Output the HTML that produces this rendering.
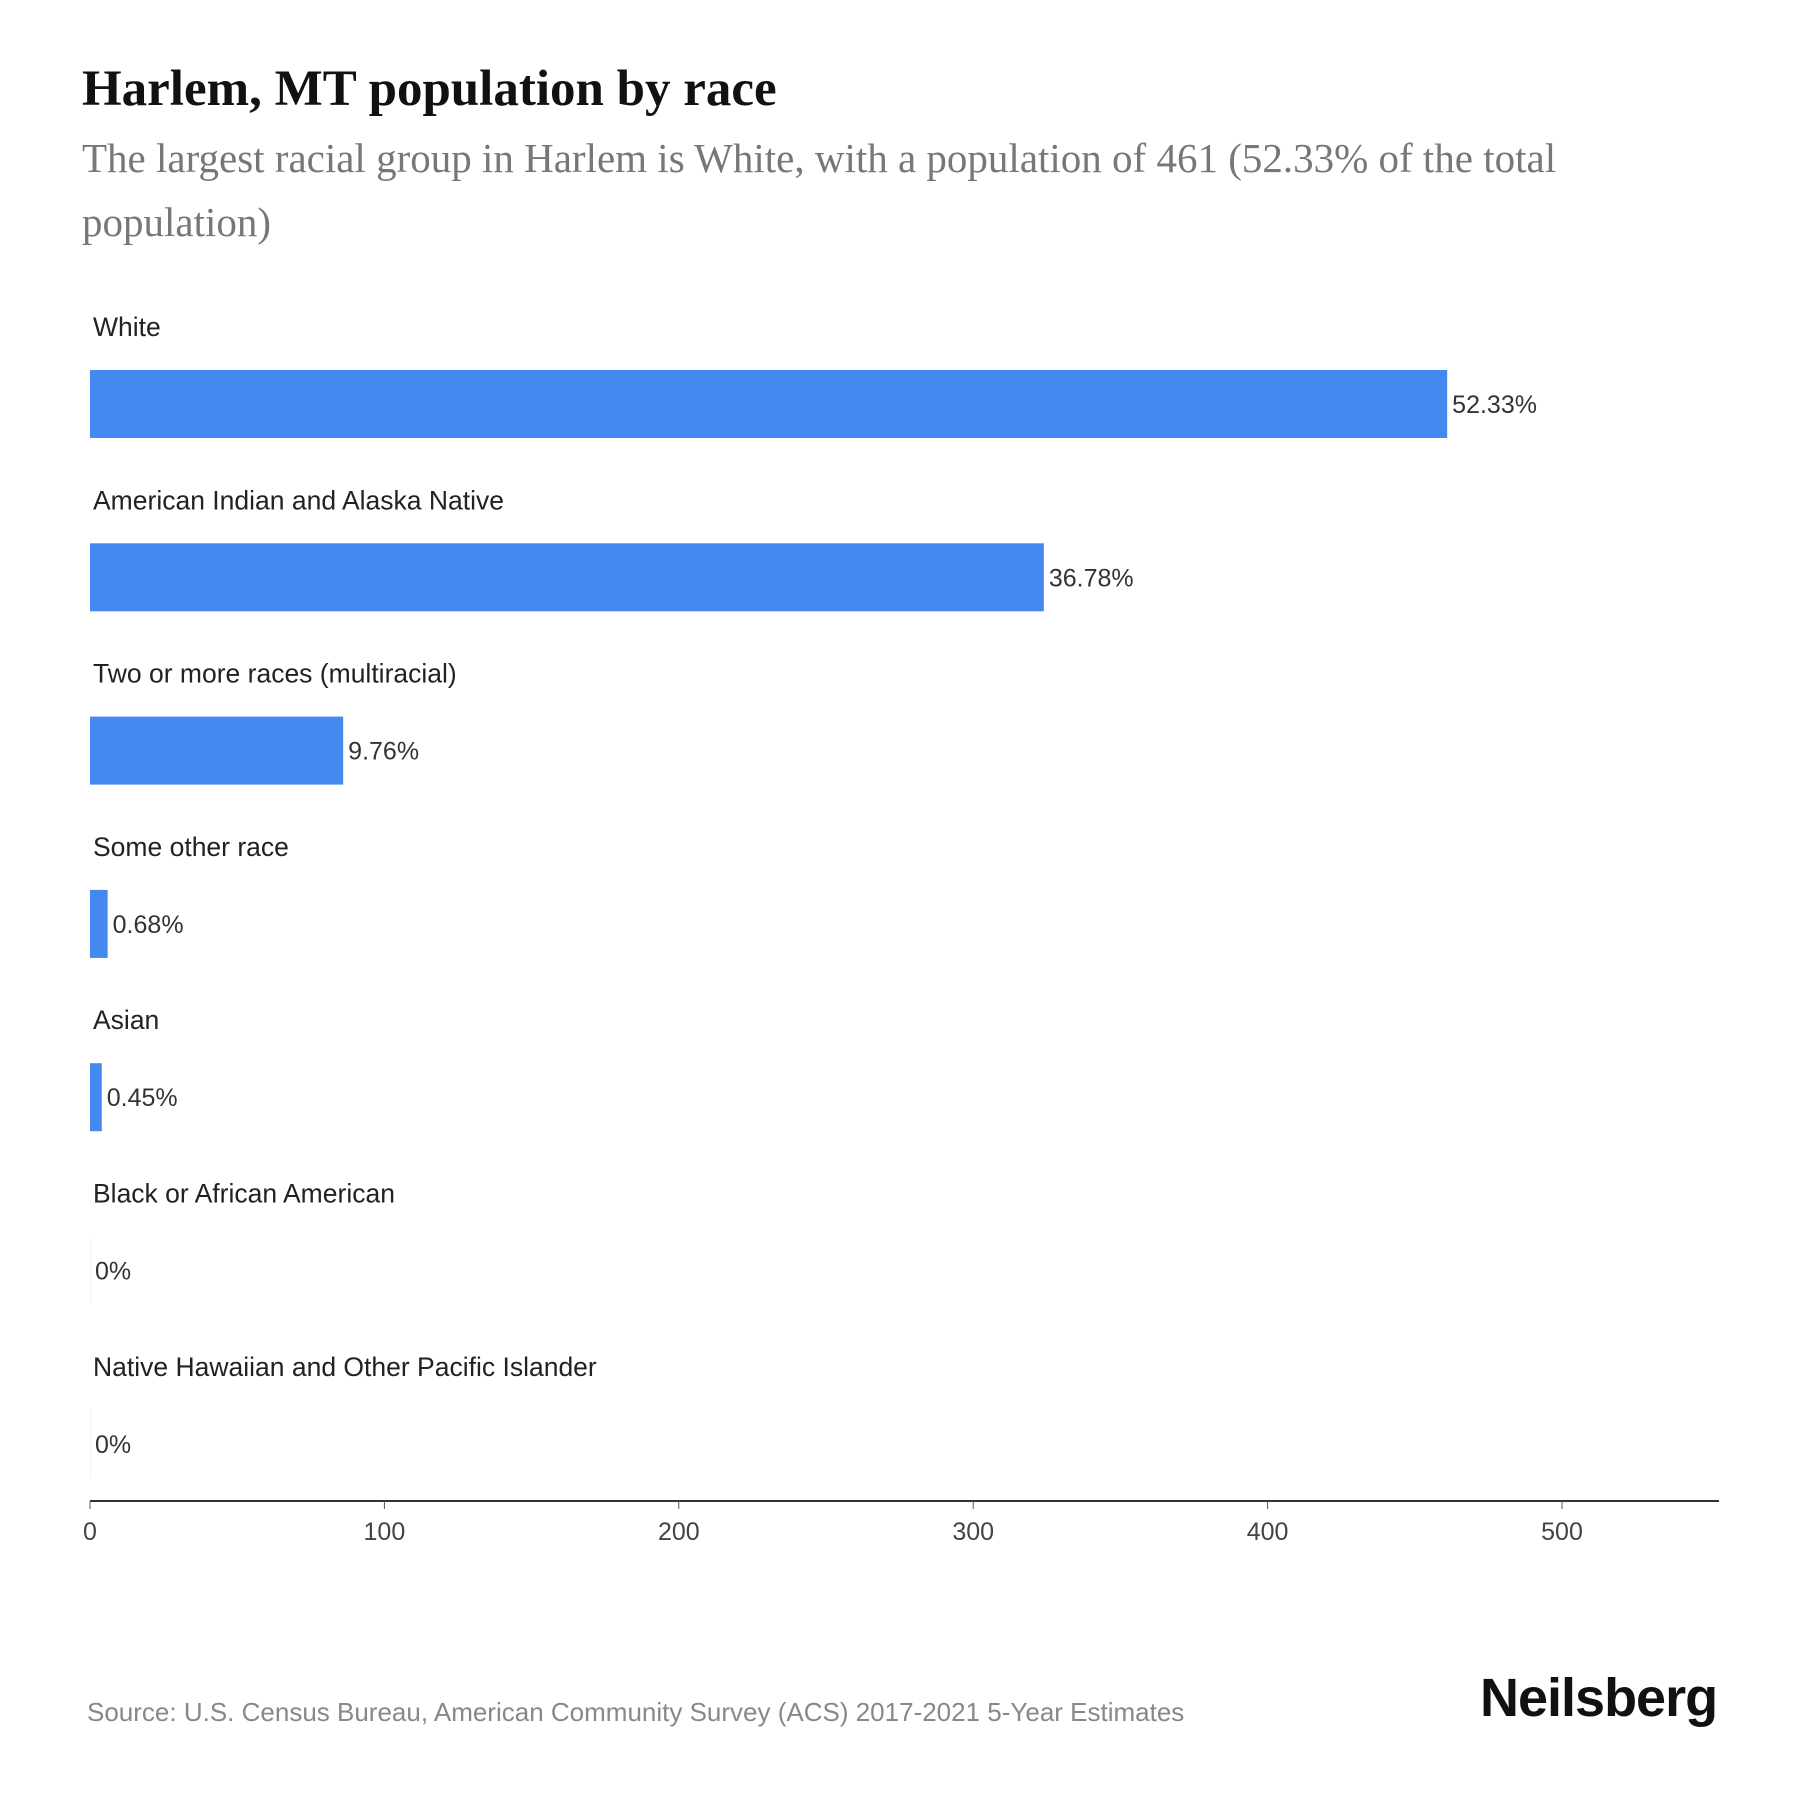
<!DOCTYPE html>
<html><head><meta charset="utf-8"><style>
body{margin:0;background:#fff;width:1800px;height:1800px;overflow:hidden;position:relative;font-family:"Liberation Sans",sans-serif}
.t{position:absolute;white-space:nowrap}
</style></head><body>
<div class="t" style="left:82px;top:60px;font:bold 51px 'Liberation Serif',serif;color:#111">Harlem, MT population by race</div>
<div class="t" style="left:82px;top:126px;font:41px/64px 'Liberation Serif',serif;color:#777">The largest racial group in Harlem is White, with a population of 461 (52.33% of the total<br>population)</div>
<svg id="chart" width="1800" height="1800" style="position:absolute;left:0;top:0"></svg>
<div class="t" style="left:87px;top:1697px;font-size:26px;color:#888">Source: U.S. Census Bureau, American Community Survey (ACS) 2017-2021 5-Year Estimates</div>
<div class="t" style="left:1480px;top:1667px;font:bold 54px 'Liberation Sans',sans-serif;color:#111;letter-spacing:-1px">Neilsberg</div>
<script>
const categories=["White","American Indian and Alaska Native","Two or more races (multiracial)","Some other race","Asian","Black or African American","Native Hawaiian and Other Pacific Islander"];
const values=[461,324,86,6,4,0,0];
const labels=["52.33%","36.78%","9.76%","0.68%","0.45%","0%","0%"];
const ticks=[0,100,200,300,400,500];
const NS="http://www.w3.org/2000/svg";
const svg=document.getElementById('chart');
const x0=90,pxPer=2.944;
const xs=v=>x0+v*pxPer;
const yBar=i=>370+i*173.3;
function mk(t,a){const e=document.createElementNS(NS,t);for(const k in a)e.setAttribute(k,a[k]);svg.appendChild(e);return e;}
categories.forEach((c,i)=>{
 const l=mk('text',{x:93,y:yBar(i)-34,'font-size':26.5,fill:'#222','font-family':'Liberation Sans, sans-serif'});
 
 
 l.textContent=c;
 const r=mk('rect',{x:x0,y:yBar(i),width:Math.max(xs(values[i])-x0,1),height:68,fill:values[i]>0?'#4589f0':'#f2f2f2'});
 
 
 const v=mk('text',{x:xs(values[i])+5,y:yBar(i)+43,'font-size':25,fill:'#333','font-family':'Liberation Sans, sans-serif'});
 
 
 v.textContent=labels[i];
});
const ax=mk('line',{x1:x0,x2:1719,y1:1501,y2:1501,stroke:'#333','stroke-width':2});


ticks.forEach(t=>{
 const tk=mk('line',{x1:xs(t),x2:xs(t),y1:1501,y2:1509,stroke:'#555','stroke-width':1});
 
 
 const tl=mk('text',{x:xs(t),y:1540,'font-size':25,fill:'#444','text-anchor':'middle','font-family':'Liberation Sans, sans-serif'});
 
 
 tl.textContent=t;
});
</script>
</body></html>
